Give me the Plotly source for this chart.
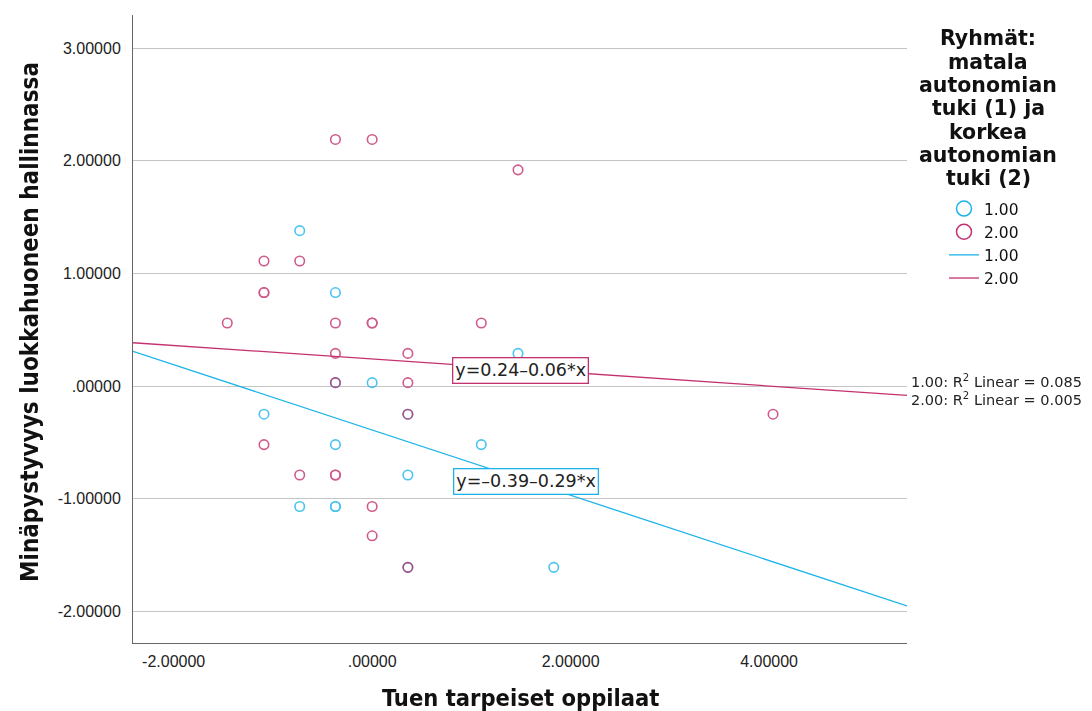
import plotly.graph_objects as go

# ---------------- data ----------------
blue_x = [-0.73, -0.37, 1.47, -0.37, 0.00, -1.09, 0.36, -0.37, 1.10, 0.36, -0.73, -0.37, -0.37, 0.36, 1.83]
blue_y = [1.38, 0.83, 0.29, 0.03, 0.03, -0.25, -0.25, -0.52, -0.52, -0.79, -1.07, -1.07, -1.07, -1.61, -1.61]

red_x = [-0.37, 0.00, 1.47, -1.09, -0.73, -1.09, -1.09, -1.46, -0.37, 0.00, 0.00, 1.10,
         -0.37, 0.36, -0.37, 0.36, 0.36, -1.09, -0.73, -0.37, -0.37, 0.00, 0.00, 0.36, 4.04]
red_y = [2.19, 2.19, 1.92, 1.11, 1.11, 0.83, 0.83, 0.56, 0.56, 0.56, 0.56, 0.56,
         0.29, 0.29, 0.03, 0.03, -0.25, -0.52, -0.79, -0.79, -0.79, -1.07, -1.33, -1.61, -0.25]

group_names = ["1.00", "2.00"]
intercepts = [-0.39, 0.24]
slopes = [-0.29, -0.06]
r_squared = ["0.085", "0.005"]

x_ticks = [-2, 0, 2, 4]
x_ticktext = ["-2.00000", ".00000", "2.00000", "4.00000"]
y_ticks = [-2, -1, 0, 1, 2, 3]
y_ticktext = ["-2.00000", "-1.00000", ".00000", "1.00000", "2.00000", "3.00000"]

x_range = [-2.41, 5.39]
y_range = [-2.282, 3.295]

legend_title_lines = ["Ryhmät:", "matala", "autonomian", "tuki (1) ja", "korkea", "autonomian", "tuki (2)"]
x_title = "Tuen tarpeiset oppilaat"
y_title = "Minäpystyvyys luokkahuoneen hallinnassa"

# ---------------- styling ----------------
BLUE = "#1DB4EC"
RED = "#C4316F"
COLORS = [BLUE, RED]
OFF = 8                      # page body margin
W, H = 1092 - OFF, 711 - OFF
PL, PR, PT, PB = 133, 907, 15, 643          # plot area in page pixels
ML, MT = PL - OFF, PT - OFF
MR, MB = (OFF + W) - PR, (OFF + H) - PB
PW, PH = PR - PL, PB - PT


def px2paper(px, py):
    return (px - PL) / PW, (PB - py) / PH


fig = go.Figure()

# regression lines (drawn under markers)
for i, (b0, b1) in enumerate(zip(intercepts, slopes)):
    xs = list(x_range)
    ys = [b0 + b1 * v for v in xs]
    fig.add_trace(go.Scatter(x=xs, y=ys, mode="lines", name=group_names[i],
                             line=dict(color=COLORS[i], width=1.3), legendrank=3 + i,
                             hoverinfo="skip"))

# scatter markers
for i, (xs, ys) in enumerate([(blue_x, blue_y), (red_x, red_y)]):
    fig.add_trace(go.Scatter(x=xs, y=ys, mode="markers", name=group_names[i], showlegend=False,
                             marker=dict(symbol="circle-open", size=9.5, color=COLORS[i],
                                         line=dict(width=1.6, color=COLORS[i])),
                             opacity=0.8))
    # legend entry with the larger legend symbol
    fig.add_trace(go.Scatter(x=[None], y=[None], mode="markers", name=group_names[i],
                             marker=dict(symbol="circle-open", size=15, color=COLORS[i],
                                         line=dict(width=1.5, color=COLORS[i])),
                             legendrank=1 + i))

annotations = []

# equation labels
eq_pos = [(1.55, -0.845), (1.49, 0.142)]
for i, (b0, b1) in enumerate(zip(intercepts, slopes)):
    sign = "–" if b1 < 0 else "+"
    b0s = f"{b0:.2f}".replace("-", "–")
    txt = f"y={b0s}{sign}{abs(b1):.2f}*x"
    annotations.append(dict(x=eq_pos[i][0], y=eq_pos[i][1], xref="x", yref="y", text=txt,
                            showarrow=False, bgcolor="white", bordercolor=COLORS[i], borderwidth=1.3,
                            borderpad=2, font=dict(family="DejaVu Sans", size=17.5, color="#222")))

# R² labels at right
r2_py = [381, 399]
for i in range(2):
    xp, yp = px2paper(909, r2_py[i])
    annotations.append(dict(x=xp, y=yp, xref="paper", yref="paper", xanchor="left", yanchor="middle",
                            text=f"{group_names[i]}: R<sup>2</sup> Linear = {r_squared[i]}",
                            showarrow=False, font=dict(family="DejaVu Sans", size=14.5, color="#222")))

# legend title lines
title_py = [38, 62, 85, 108, 132, 155, 178]
for line, py in zip(legend_title_lines, title_py):
    xp, yp = px2paper(988, py)
    annotations.append(dict(x=xp, y=yp, xref="paper", yref="paper", xanchor="center", yanchor="middle",
                            text=f"<b>{line}</b>", showarrow=False,
                            font=dict(family="DejaVu Sans", size=20.5, color="#111")))

# axis titles
TITLE_FONT = "DejaVu Sans Condensed, Liberation Sans Narrow, Roboto, sans-serif"
xp, yp = px2paper(520, 698)
annotations.append(dict(x=xp, y=yp, xref="paper", yref="paper", xanchor="center", yanchor="middle",
                        text=f"<b>{x_title}</b>", showarrow=False,
                        font=dict(family=TITLE_FONT, size=23.5, color="#111")))
xp, yp = px2paper(30, 322)
annotations.append(dict(x=xp, y=yp, xref="paper", yref="paper", xanchor="center", yanchor="middle",
                        textangle=-90, text=f"<b>{y_title}</b>", showarrow=False,
                        font=dict(family=TITLE_FONT, size=24, color="#111")))

lx, ly = px2paper(944, 192)
fig.update_layout(
    width=W, height=H,
    margin=dict(l=ML, r=MR, t=MT, b=MB, pad=0),
    paper_bgcolor="white", plot_bgcolor="white",
    showlegend=True,
    legend=dict(x=lx, y=ly, xanchor="left", yanchor="top", itemsizing="trace",
                font=dict(family="DejaVu Sans", size=15.5, color="#111"),
                bgcolor="rgba(0,0,0,0)", tracegroupgap=0, traceorder="normal"),
    annotations=annotations,
    xaxis=dict(range=x_range, tickvals=x_ticks, ticktext=x_ticktext, showgrid=False, zeroline=False,
               showline=True, linecolor="#666", linewidth=1, ticks="outside", ticklen=4,
               tickcolor="rgba(0,0,0,0)",
               tickfont=dict(family="Liberation Sans", size=16, color="#222")),
    yaxis=dict(range=y_range, tickvals=y_ticks, ticktext=y_ticktext, showgrid=True, gridcolor="#C4C4C4",
               gridwidth=1, zeroline=False, showline=True, linecolor="#666", linewidth=1,
               ticks="outside", ticklen=8, tickcolor="rgba(0,0,0,0)",
               tickfont=dict(family="Liberation Sans", size=16, color="#222")),
)

fig.write_html("out.html")
